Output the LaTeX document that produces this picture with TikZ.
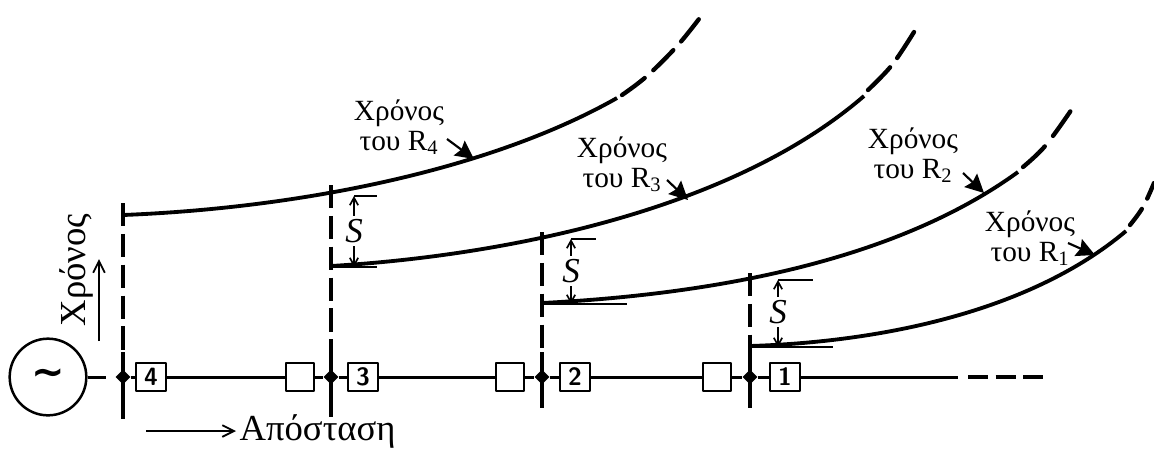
\documentclass[tikz,border=0pt]{standalone}
\usepackage{fontspec}
\setmainfont{Liberation Serif}
\newfontfamily\symfont{DejaVu Sans}
\usepackage{tikz}
\usetikzlibrary{arrows.meta, calc, shapes.geometric}

\tikzset{
  curve/.style={line width=2.3pt},
  curvedash/.style={line width=2.6pt, line cap=round},
  drop/.style={line width=1.9pt, dash pattern=on 14pt off 4.5pt},
  dropend/.style={line width=1.9pt},
  busline/.style={line width=1.8pt},
  relaybox/.style={draw, line width=1.2pt, minimum width=18pt, minimum height=17pt, inner sep=0pt, font=\fontsize{15}{15}\selectfont\bfseries\sffamily},
  emptybox/.style={draw, line width=1.2pt, minimum width=17pt, minimum height=17pt, inner sep=0pt},
  junction/.style={diamond, fill=black, inner sep=0pt, minimum size=9pt},
  lbl/.style={align=center, font=\fontsize{17.6}{18}\selectfont, inner sep=0pt},
  bigarrow/.style={-{Stealth[length=11pt,width=11pt,inset=1.5pt]}, line width=1.3pt},
  thinarrow/.style={-{Straight Barb[length=7pt,width=7pt]}, line width=1.1pt},
  gaparrow/.style={-{Straight Barb[length=4.5pt,width=5pt]}, line width=1pt},
  refline/.style={line width=1.1pt},
  axislabel/.style={font=\fontsize{22}{22}\selectfont},
}

\begin{document}
\begin{tikzpicture}[x=0.6pt, y=-0.6pt, line join=round]

  \useasboundingbox (0,0) rectangle (1154,454);

  \def\ybus{377}

  % Source
  \node[circle, draw, line width=1.5pt, minimum size=46pt, inner sep=0pt, font=\symfont\fontsize{24}{24}\selectfont\bfseries] (source) at (48,\ybus) {∼};

  % Junctions on the bus
  \node[junction] (j4) at (123,\ybus) {};
  \node[junction] (j3) at (331,\ybus) {};
  \node[junction] (j2) at (542,\ybus) {};
  \node[junction] (j1) at (750,\ybus) {};

  % Relay boxes
  \node[relaybox] (r4) at (151,\ybus) {4};
  \node[emptybox] (e3) at (300,\ybus) {};
  \node[relaybox] (r3) at (363,\ybus) {3};
  \node[emptybox] (e2) at (510,\ybus) {};
  \node[relaybox] (r2) at (575,\ybus) {2};
  \node[emptybox] (e1) at (717,\ybus) {};
  \node[relaybox] (r1) at (785,\ybus) {1};

  % Bus
  \coordinate (busA) at (106,\ybus);
  \coordinate (busB) at (958,\ybus);
  \coordinate (busC) at (968,\ybus);
  \coordinate (busD) at (1046,\ybus);
  \draw[busline] (source) -- (busA);
  \draw[busline] (j4) -- (r4);
  \draw[busline] (r4) -- (e3);
  \draw[busline] (e3) -- (j3);
  \draw[busline] (j3) -- (r3);
  \draw[busline] (r3) -- (e2);
  \draw[busline] (e2) -- (j2);
  \draw[busline] (j2) -- (r2);
  \draw[busline] (r2) -- (e1);
  \draw[busline] (e1) -- (j1);
  \draw[busline] (j1) -- (r1);
  \draw[busline] (r1) -- (busB);
  \draw[line width=2.2pt, dash pattern=on 12pt off 4.5pt] (busC) -- (busD);

  % Vertical drops: dashed above the bus, solid through it
  \foreach \name/\xl/\yt/\yb in {j4/123/203/419, j3/331/185/417, j2/542/232/408, j1/750/273/408}{
    \coordinate (top) at (\xl,\yt);
    \coordinate (bot) at (\xl,\yb);
    \coordinate (mid) at (\xl,352);
    \draw[drop] (top) -- (mid);
    \draw[dropend] (mid) -- (bot);
  }

  % Time curves, solid part then dashed part
  \draw[curve] (123,215) .. controls (300,208) and (490,170) .. (617,98);
  \draw[curvedash, dash pattern=on 17pt off 7pt] plot[smooth, tension=0.6] coordinates {(622,95) (647,76) (678,45) (702,15)};

  \draw[curve] (331,266) .. controls (500,256) and (730,212) .. (864,96);
  \draw[curvedash, dash pattern=on 19pt off 7pt] plot[smooth, tension=0.6] coordinates {(868,90) (892,65) (914,32)};

  \draw[curve] (542,303) .. controls (700,295) and (890,265) .. (1018,172);
  \draw[curvedash, dash pattern=on 18pt off 8pt] plot[smooth, tension=0.6] coordinates {(1023,167) (1046,145) (1074,106)};

  \draw[curve] (750,346) .. controls (880,342) and (1030,312) .. (1126,231);
  \draw[curvedash, dash pattern=on 12pt off 7pt] plot[smooth, tension=0.6] coordinates {(1130,225) (1143,207) (1154,183)};

  % Reference lines and S gaps
  \foreach \xl/\yt/\yb/\xs/\tl/\bl/\ys in {331/196/267/354/377/377/231, 542/239/304/571/596/627/271, 750/280/347/778/813/833/312}{
    \coordinate (gtop) at (\xs,\yt);
    \coordinate (gbot) at (\xs,\yb);
    \coordinate (rtop) at (\tl,\yt);
    \coordinate (rbot) at (\bl,\yb);
    \coordinate (rfoot) at (\xl,\yb);
    \node[font=\fontsize{21}{21}\selectfont\itshape, inner sep=2pt] (gap) at (\xs,\ys) {S};
    \draw[refline] (gtop) -- (rtop);
    \draw[refline] (rfoot) -- (rbot);
    \draw[gaparrow] (gap) -- (gtop);
    \draw[gaparrow] (gap) -- (gbot);
  }

  % Labels with arrows
  \node[lbl] (t4) at (399,127) {Χρόνος\\του R\textsubscript{4}};
  \coordinate (a4) at (447,139);
  \coordinate (p4) at (474,159);
  \draw[bigarrow] (a4) -- (p4);
  \node[lbl] (t3) at (622,164) {Χρόνος\\του R\textsubscript{3}};
  \coordinate (a3) at (667,180);
  \coordinate (p3) at (688,200);
  \draw[bigarrow] (a3) -- (p3);
  \node[lbl] (t2) at (913,155) {Χρόνος\\του R\textsubscript{2}};
  \coordinate (a2) at (963,173);
  \coordinate (p2) at (984,193);
  \draw[bigarrow] (a2) -- (p2);
  \node[lbl] (t1) at (1030,238) {Χρόνος\\του R\textsubscript{1}};
  \coordinate (a1) at (1068,243);
  \coordinate (p1) at (1095,255);
  \draw[bigarrow] (a1) -- (p1);

  % Axis labels
  \node[rotate=90, axislabel, inner sep=0pt] (axt) at (76,270) {Χρόνος};
  \coordinate (axtA) at (99,341);
  \coordinate (axtB) at (99,259);
  \draw[thinarrow] (axtA) -- (axtB);
  \node[axislabel, anchor=west, inner sep=2pt] (axd) at (236,431) {Απόσταση};
  \coordinate (axdA) at (146,431);
  \draw[thinarrow] (axdA) -- (axd);

\end{tikzpicture}
\end{document}
